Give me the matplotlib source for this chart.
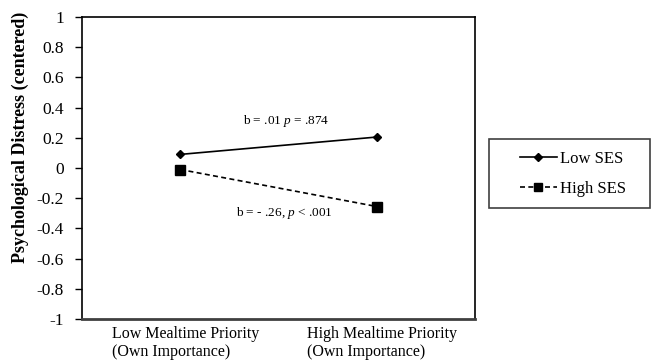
import matplotlib
matplotlib.use('Agg')
import matplotlib.pyplot as plt
from matplotlib.patches import Rectangle
from matplotlib.transforms import ScaledTranslation

plt.rcParams['font.family'] = 'Liberation Serif'
plt.rcParams['mathtext.fontset'] = 'custom'
plt.rcParams['mathtext.rm'] = 'Liberation Serif'
plt.rcParams['mathtext.it'] = 'Liberation Serif:italic'

categories = ['Low Mealtime Priority\n(Own Importance)', 'High Mealtime Priority\n(Own Importance)']
low_ses = [0.09, 0.205]
high_ses = [-0.01, -0.255]
yticks = [-1, -0.8, -0.6, -0.4, -0.2, 0, 0.2, 0.4, 0.6, 0.8, 1]
ytick_labels = ['-1', '-0.8', '-0.6', '-0.4', '-0.2', '0', '0.2', '0.4', '0.6', '0.8', '1']

fig = plt.figure(figsize=(6.51, 3.63), dpi=100)
ax = fig.add_axes([82/651, 1 - 319/363, 393/651, 302/363])

x = [0, 1]
ax.plot(x, low_ses, color='black', lw=1.2, marker='D', markersize=4.5, label='Low SES')
ax.plot(x, high_ses, color='black', lw=1.2, ls=(0, (3, 2)), marker='s', markersize=6.5, label='High SES')

ax.set_xlim(-0.5, 1.5)
ax.set_ylim(-1, 1)
ax.set_xticks(x)
ax.set_xticklabels(categories, fontsize=11.5, ha='center', multialignment='left', linespacing=1.2)
ax.tick_params(axis='x', length=0, pad=5)
shift = ScaledTranslation(5/100, 0, fig.dpi_scale_trans)
for lab in ax.get_xticklabels():
    lab.set_transform(lab.get_transform() + shift)
ax.set_yticks(yticks)
ax.set_yticklabels(ytick_labels, fontsize=12.5)
ax.tick_params(axis='y', direction='out', length=5, width=1, pad=8)
ax.set_ylabel('Psychological Distress (centered)', fontsize=13, fontweight='bold')
ax.yaxis.set_label_coords(-0.135, 0.6)

for s in ax.spines.values():
    s.set_linewidth(1.2)
ax.spines['bottom'].set_color('#404040')
ax.spines['bottom'].set_linewidth(2)

ax.text(0.54, 0.31, r'b = .01 $\it{p}$ = .874', fontsize=9.5, ha='center', va='center')
ax.text(0.53, -0.30, r'b = - .26, $\it{p}$ < .001', fontsize=9.5, ha='center', va='center')

# legend box drawn separately so the entries can sit inset from its left edge
fig.patches.append(Rectangle((489/651, 1 - 208/363), 161/651, 69/363,
                             transform=fig.transFigure, fill=False,
                             edgecolor='#404040', lw=1.2))
fig.legend(loc='center left', bbox_to_anchor=(520/651, 1 - 174/363),
           fontsize=12, frameon=False, labelspacing=0.8,
           handlelength=2.2, handletextpad=0.2, borderaxespad=0,
           borderpad=0, markerscale=0.85)

fig.savefig('out.png', dpi=100)
